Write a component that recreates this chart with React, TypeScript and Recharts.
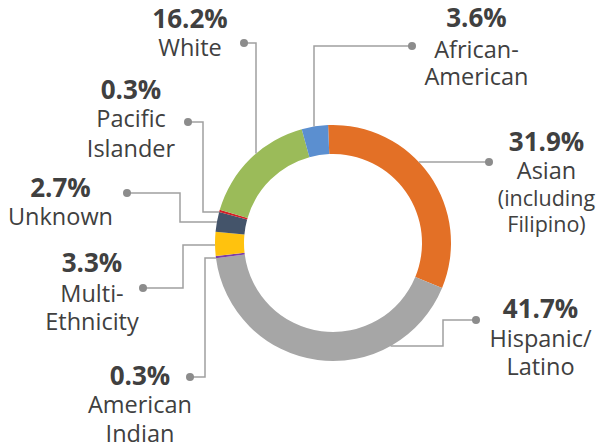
import { Cell, Pie, PieChart } from "recharts";

const categories = [
  "Asian (including Filipino)",
  "Hispanic/Latino",
  "American Indian",
  "Multi-Ethnicity",
  "Unknown",
  "Pacific Islander",
  "White",
  "African-American",
];
const shares = [31.9, 41.7, 0.3, 3.3, 2.7, 0.3, 16.2, 3.6];
const nameLines = [
  ["Asian", "(including", "Filipino)"],
  ["Hispanic/", "Latino"],
  ["American", "Indian"],
  ["Multi-", "Ethnicity"],
  ["Unknown"],
  ["Pacific", "Islander"],
  ["White"],
  ["African-", "American"],
];
const COLORS = [
  "#E37026",
  "#A6A6A6",
  "#7B3FA8",
  "#FFC20E",
  "#44546A",
  "#D42027",
  "#9BBB59",
  "#5B8FD0",
];

// label placement: text centre, baselines, dot, elbows
type Layout = {
  x: number;
  base: number[];
  small?: boolean;
  dot: [number, number];
  elbows: [number, number][];
};
const LAYOUT: Layout[] = [
  { x: 546.5, base: [150.7, 179.3, 206, 231.7], small: true, dot: [489, 162], elbows: [] },
  { x: 540.5, base: [318.3, 346.7, 375], dot: [476, 320], elbows: [[443, 320], [443, 346]] },
  { x: 140, base: [385, 413.3, 442.3], dot: [190, 377], elbows: [[205, 377], [205, 258]] },
  { x: 92, base: [272.3, 302.3, 330], dot: [143, 288], elbows: [[183, 288], [183, 245]] },
  { x: 60.5, base: [196.7, 225], dot: [127, 193], elbows: [[180, 193], [180, 222]] },
  { x: 131, base: [99, 127.3, 156.7], dot: [188, 122], elbows: [[203, 122], [203, 212]] },
  { x: 190, base: [28.3, 56], dot: [244, 43], elbows: [[256, 43]] },
  { x: 476.5, base: [27.3, 58.3, 85], dot: [412, 46], elbows: [[314, 46]] },
];

const data = categories.map((name, i) => ({ name, value: shares[i] }));

const TEXT = "#404040";
const LINE = "#A0A0A0";
const FONT = "'Open Sans', sans-serif";

function renderLabel(props: any) {
  const { cx, cy, outerRadius, index } = props;
  const l = LAYOUT[index];
  const pts: [number, number][] = [l.dot, ...l.elbows];
  const last = pts[pts.length - 1];
  const prev = pts.length > 1 ? pts[pts.length - 2] : null;
  // last leg runs perpendicular to the previous one until it meets the ring
  const vertical = prev ? prev[1] === last[1] : false;
  let end: [number, number];
  if (vertical) {
    const dx = last[0] - cx;
    const dy = Math.sqrt(outerRadius * outerRadius - dx * dx);
    end = [last[0], last[1] < cy ? cy - dy : cy + dy];
  } else {
    const dy = last[1] - cy;
    const dx = Math.sqrt(outerRadius * outerRadius - dy * dy);
    end = [last[0] < cx ? cx - dx : cx + dx, last[1]];
  }
  const path = [...pts, end].map((p) => p.join(",")).join(" ");
  const lines = [`${shares[index]}%`, ...nameLines[index]];
  return (
    <g key={`lbl-${index}`}>
      <polyline points={path} fill="none" stroke={LINE} strokeWidth={1.5} />
      <circle cx={l.dot[0]} cy={l.dot[1]} r={4} fill="#8C8C8C" />
      {lines.map((t, j) => (
        <text
          key={j}
          x={l.x}
          y={l.base[j]}
          textAnchor="middle"
          fill={TEXT}
          fontFamily={FONT}
          fontWeight={j === 0 ? 700 : 400}
          fontSize={j === 0 ? 26 : l.small && j > 1 ? 21.5 : 23.5}
        >
          {t}
        </text>
      ))}
    </g>
  );
}

export default function App() {
  return (
    <div style={{ position: "absolute", left: 0, top: 0, background: "#fff" }}>
      <PieChart
        width={597}
        height={448}
        margin={{ top: 0, right: 0, bottom: 0, left: 0 }}
      >
        <Pie
          data={data}
          dataKey="value"
          nameKey="name"
          cx={333}
          cy={243}
          innerRadius={89}
          outerRadius={118}
          startAngle={92.4}
          endAngle={-267.6}
          stroke="none"
          label={renderLabel}
          labelLine={false}
          isAnimationActive={false}
        >
          {data.map((d, i) => (
            <Cell key={d.name} fill={COLORS[i]} />
          ))}
        </Pie>
      </PieChart>
    </div>
  );
}
